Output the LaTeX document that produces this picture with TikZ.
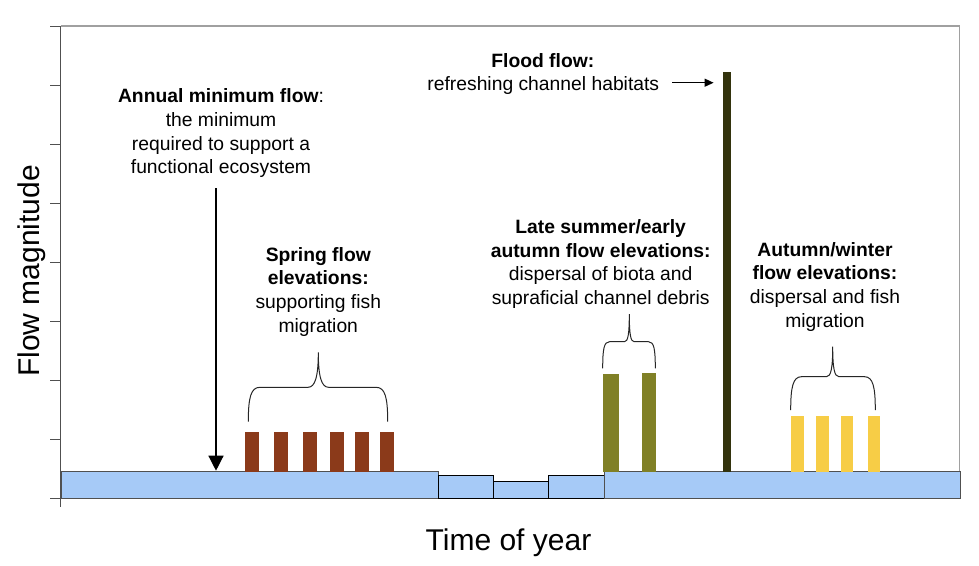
\documentclass[tikz,border=0pt]{standalone}
\usepackage{fontspec}
\setmainfont{Liberation Sans}
\usetikzlibrary{arrows.meta}

\definecolor{flowblue}{RGB}{166,202,247}
\definecolor{springbrown}{RGB}{139,58,26}
\definecolor{lateolive}{RGB}{128,128,38}
\definecolor{flooddark}{RGB}{51,51,13}
\definecolor{winteryellow}{RGB}{247,205,70}
\definecolor{axisgray}{RGB}{80,80,80}
\definecolor{framegray}{RGB}{160,160,160}

\begin{document}
\begin{tikzpicture}[x=1pt, y=-1pt,
    basebar/.style={draw=axisgray, line width=1pt, fill=flowblue, inner sep=0, anchor=south west},
    springbar/.style={fill=springbrown, inner sep=0, anchor=south west, minimum width=14, minimum height=39.7},
    latebar/.style={fill=lateolive, inner sep=0, anchor=south west},
    floodbar/.style={fill=flooddark, inner sep=0, anchor=south west},
    winterbar/.style={fill=winteryellow, inner sep=0, anchor=south west, minimum width=12.5, minimum height=55.7},
    note/.style={align=center, inner sep=0, font=\fontsize{19.3}{23.7}\selectfont},
    axislabel/.style={inner sep=0, font=\fontsize{30}{36}\selectfont},
    bracecurve/.style={line width=1pt, black!85},
    pointer/.style={line width=1.3pt, -{Triangle[length=15pt,width=15pt]}}]
\useasboundingbox (0,0) rectangle (979,565);

% frame and axis
\draw[framegray, line width=1.5pt] (60.7,26) -- (959.7,26) -- (959.7,472);
\draw[axisgray, line width=1.5pt] (60.7,26) -- (60.7,507);
\draw[axisgray, line width=1pt] (50,26) -- (60.7,26) (50,85) -- (60.7,85) (50,144) -- (60.7,144)
    (50,203) -- (60.7,203) (50,262) -- (60.7,262) (50,321) -- (60.7,321)
    (50,380) -- (60.7,380) (50,439) -- (60.7,439) (50,498) -- (60.7,498);

% base flow
\node[basebar, minimum width=377, minimum height=26.8] (base1) at (60.7,498.5) {};
\node[basebar, draw=black, minimum width=55, minimum height=22.8] (base2) at (437.7,498.5) {};
\node[basebar, draw=black, minimum width=55, minimum height=16.2] (base3) at (492.7,498.5) {};
\node[basebar, draw=black, minimum width=55.8, minimum height=22.8] (base4) at (547.7,498.5) {};
\node[basebar, minimum width=356.5, minimum height=26.8] (base5) at (603.5,498.5) {};

% elevations
\node[springbar] (spring1) at (244.3,471.7) {};
\node[springbar] (spring2) at (274,471.7) {};
\node[springbar] (spring3) at (303,471.7) {};
\node[springbar] (spring4) at (329.5,471.7) {};
\node[springbar] (spring5) at (354.5,471.7) {};
\node[springbar] (spring6) at (380,471.7) {};
\node[latebar, minimum width=16, minimum height=97.2] (late1) at (603,471.7) {};
\node[latebar, minimum width=14, minimum height=98.2] (late2) at (641.5,471.7) {};
\node[floodbar, minimum width=8.7, minimum height=399.7] (flood) at (722.3,471.7) {};
\node[winterbar] (winter1) at (791,471.7) {};
\node[winterbar] (winter2) at (816,471.7) {};
\node[winterbar] (winter3) at (840.7,471.7) {};
\node[winterbar] (winter4) at (867.5,471.7) {};

% braces
\draw[bracecurve] (248.3,421.7) .. controls (248.3,397) and (251,387.3) .. (260,387.3) -- (308,387.3)
    .. controls (315,387.3) and (318.3,377) .. (318.3,352.3)
    .. controls (318.3,377) and (321.6,387.3) .. (328.6,387.3) -- (376,387.3)
    .. controls (385,387.3) and (387.7,397) .. (387.7,421.7);
\draw[bracecurve] (602.7,368.3) .. controls (602.7,349) and (604,341.7) .. (609.5,341.7) -- (624.5,341.7)
    .. controls (628,341.7) and (629.3,334) .. (629.3,314)
    .. controls (629.3,334) and (630.6,341.7) .. (634.1,341.7) -- (648.5,341.7)
    .. controls (654,341.7) and (655.3,349) .. (655.3,368.3);
\draw[bracecurve] (790.7,410) .. controls (790.7,387) and (793,376.7) .. (801.5,376.7) -- (826.5,376.7)
    .. controls (831,376.7) and (832.7,368) .. (832.7,346.7)
    .. controls (832.7,368) and (834.4,376.7) .. (838.9,376.7) -- (864.5,376.7)
    .. controls (873,376.7) and (875.3,387) .. (875.3,410);

% labels
\node[note, anchor=north] (amin) at (221,88.7) {\textbf{Annual minimum flow}:\\the minimum\\required to support a\\functional ecosystem};
\node[note, anchor=base, font=\fontsize{19.3}{23.7}\selectfont\bfseries] (floodhead) at (542.8,67.3) {Flood flow:};
\node[note, anchor=base] (floodtxt) at (543.3,90) {refreshing channel habitats};
\node[note, anchor=north] (spring) at (318.3,247) {\textbf{Spring flow}\\\textbf{elevations:}\\supporting fish\\migration};
\node[note, anchor=north] (late) at (600.7,219.3) {\textbf{Late summer/early}\\\textbf{autumn flow elevations:}\\dispersal of biota and\\supraficial channel debris};
\node[note, anchor=north] (winter) at (825,242) {\textbf{Autumn/winter}\\\textbf{flow elevations:}\\dispersal and fish\\migration};
\node[axislabel, anchor=base] (xlabel) at (508.5,550.7) {Time of year};
\node[axislabel, anchor=base, rotate=90] (ylabel) at (39.3,271) {Flow magnitude};

% arrows
\draw[pointer, shorten <=10pt] ([xshift=-5pt]amin.south) -- ([xshift=-5pt]amin.south |- base1.north);
\draw[line width=1.3pt, -{Triangle[length=9pt,width=8pt]}, shorten >=8.7pt]
    ([xshift=13pt,yshift=2.3pt]floodtxt.east) -- ([yshift=2.3pt]floodtxt.east -| flood.west);
\end{tikzpicture}
\end{document}
